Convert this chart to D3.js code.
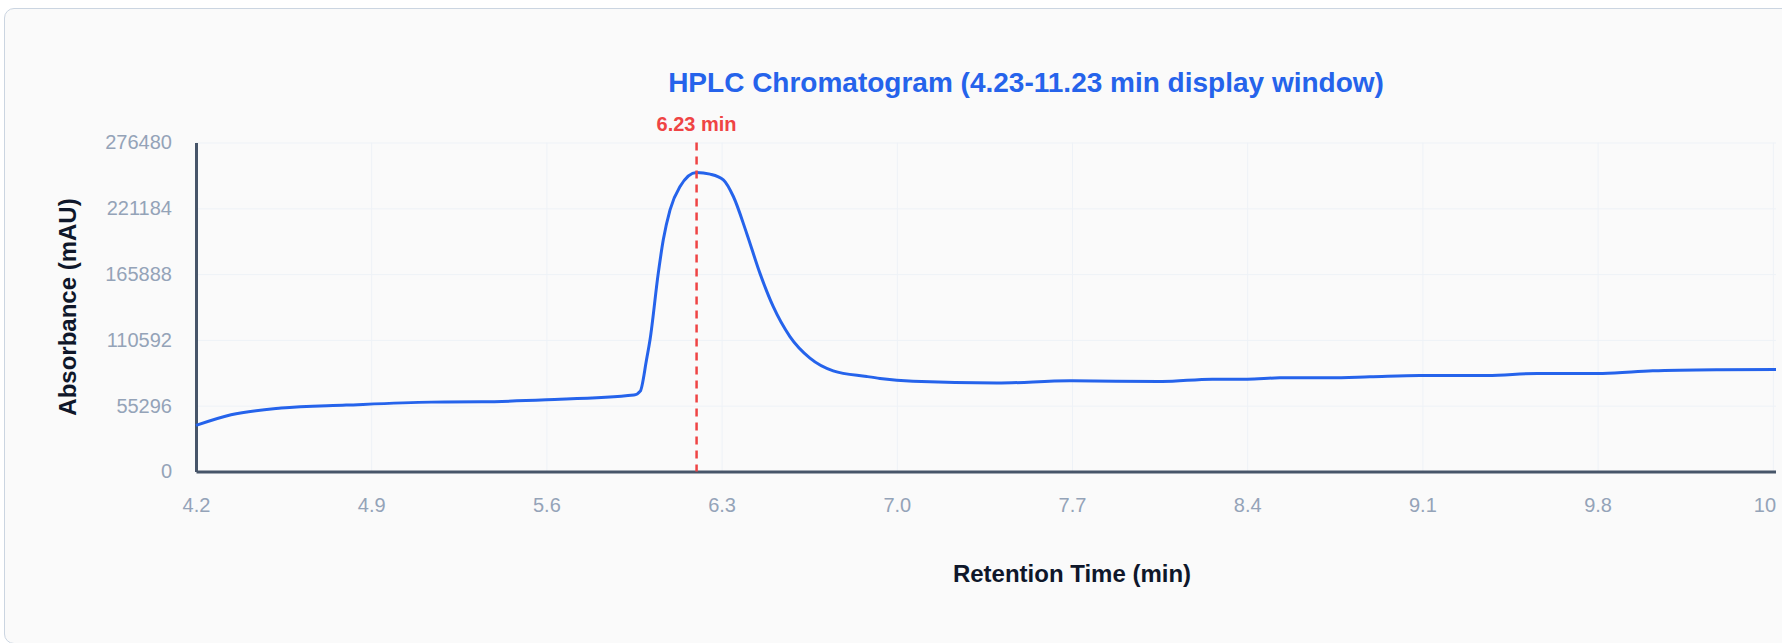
<!DOCTYPE html>
<html>
<head>
<meta charset="utf-8">
<script src="https://cdn.jsdelivr.net/npm/d3@7"></script>
<style>
  html, body { margin: 0; padding: 0; background: #ffffff; overflow: hidden; }
  body { width: 1782px; height: 643px; position: relative; font-family: "Liberation Sans", Arial, Helvetica, sans-serif; }
  .card {
    position: absolute; left: 4px; top: 8px; width: 1820px; height: 634px;
    background: #fafafa; border: 1px solid #cbd5e1; border-radius: 10px;
  }
  #chart { position: absolute; left: 26px; top: 0px; }
  .grid line { stroke: #eef2f7; stroke-width: 1; }
  .grid .domain { display: none; }
  .axis .domain { stroke: #475569; stroke-width: 3; }
  .axis text { fill: #94a3b8; font-size: 20px; font-family: "Liberation Sans", Arial, sans-serif; }
</style>
</head>
<body>
<div class="card"></div>
<svg id="chart" width="1750" height="643"></svg>
<script>
// retention time (min) and absorbance (mAU)
let times = [4.23, 4.37, 4.57, 4.83, 5.17, 5.37, 5.63, 5.98, 6.005, 6.03, 6.044, 6.077, 6.097, 6.124,
             6.164, 6.23, 6.284, 6.337, 6.377, 6.43, 6.483, 6.536, 6.603, 6.683, 6.776, 6.91, 6.963,
             7.095, 7.43, 7.72, 8.09, 8.29, 8.43, 8.56, 8.76, 8.92, 9.12, 9.39, 9.59, 9.85, 10.05,
             10.32, 10.54, 10.85, 11.23];
let absorbance = [38700, 47650, 53270, 55800, 58300, 58570, 60250, 64200, 67500, 93900, 110700, 166700, 194700, 219900,
                  239500, 251345, 249900, 245100, 231100, 200300, 166700, 138700, 113400, 95300, 84600, 79800, 78200,
                  75800, 74300, 76200, 75600, 77600, 77600, 78700, 78800, 79600, 80700, 80700, 82400, 82400, 84600,
                  85500, 85700, 86000, 86300];

let xTicks = [4.23, 4.93, 5.63, 6.33, 7.03, 7.73, 8.43, 9.13, 9.83, 10.53, 11.23];
let yTicks = [0, 55296, 110592, 165888, 221184, 276480];

let peakTime = 6.23;
let peakLabel = "6.23 min";
let titleText = "HPLC Chromatogram (4.23-11.23 min display window)";
let xLabel = "Retention Time (min)";
let yLabel = "Absorbance (mAU)";

let svg = d3.select("#chart");

let layoutWidth = 2000;
let margin = {top: 142.5, left: 170, right: 78};
let width = layoutWidth - margin.left - margin.right;
let height = 329;

let x = d3.scaleLinear().domain([4.23, 11.23]).range([0, width]);
let y = d3.scaleLinear().domain([0, 276480]).range([height, 0]);

let g = svg.append("g")
    .attr("transform", "translate(" + margin.left + "," + margin.top + ")");

// grid lines
g.append("g")
    .attr("class", "grid")
    .attr("transform", "translate(0," + height + ")")
    .call(d3.axisBottom(x).tickValues(xTicks).tickSize(-height).tickFormat(""));

g.append("g")
    .attr("class", "grid")
    .call(d3.axisLeft(y).tickValues(yTicks).tickSize(-width).tickFormat(""));

// axes
g.append("g")
    .attr("class", "axis")
    .attr("transform", "translate(0," + height + ")")
    .call(d3.axisBottom(x).tickValues(xTicks).tickSize(0).tickPadding(26)
      .tickFormat(function(d){ return d.toFixed(1); }));

g.append("g")
    .attr("class", "axis")
    .call(d3.axisLeft(y).tickValues(yTicks).tickSize(0).tickPadding(24)
      .tickFormat(function(d){ return d3.format("d")(Math.round(d)); }));

// the trace
let line = d3.line()
    .x(function(d, i){ return x(times[i]); })
    .y(function(d){ return y(d); })
    .curve(d3.curveMonotoneX);

g.append("path")
    .datum(absorbance)
    .attr("fill", "none")
    .attr("stroke", "#2563eb")
    .attr("stroke-width", 3)
    .attr("stroke-linejoin", "round")
    .attr("d", line);

// peak marker
g.append("line")
    .attr("x1", x(peakTime))
    .attr("x2", x(peakTime))
    .attr("y1", 0)
    .attr("y2", height)
    .attr("stroke", "#ef4444")
    .attr("stroke-width", 2.5)
    .attr("stroke-dasharray", "8,6");

g.append("text")
    .attr("x", x(peakTime))
    .attr("y", -11.5)
    .attr("text-anchor", "middle")
    .attr("fill", "#ef4444")
    .attr("font-size", "20px")
    .attr("font-weight", "bold")
    .text(peakLabel);

// title
svg.append("text")
    .attr("x", layoutWidth / 2)
    .attr("y", 92)
    .attr("text-anchor", "middle")
    .attr("fill", "#2563eb")
    .attr("font-size", "28px")
    .attr("font-weight", "bold")
    .text(titleText);

// axis titles
svg.append("text")
    .attr("x", margin.left + width / 2)
    .attr("y", 582)
    .attr("text-anchor", "middle")
    .attr("fill", "#0f172a")
    .attr("font-size", "24px")
    .attr("font-weight", "bold")
    .text(xLabel);

svg.append("text")
    .attr("transform", "rotate(-90)")
    .attr("x", -(margin.top + height / 2))
    .attr("y", 50)
    .attr("text-anchor", "middle")
    .attr("fill", "#0f172a")
    .attr("font-size", "24px")
    .attr("font-weight", "bold")
    .text(yLabel);
</script>
</body>
</html>
